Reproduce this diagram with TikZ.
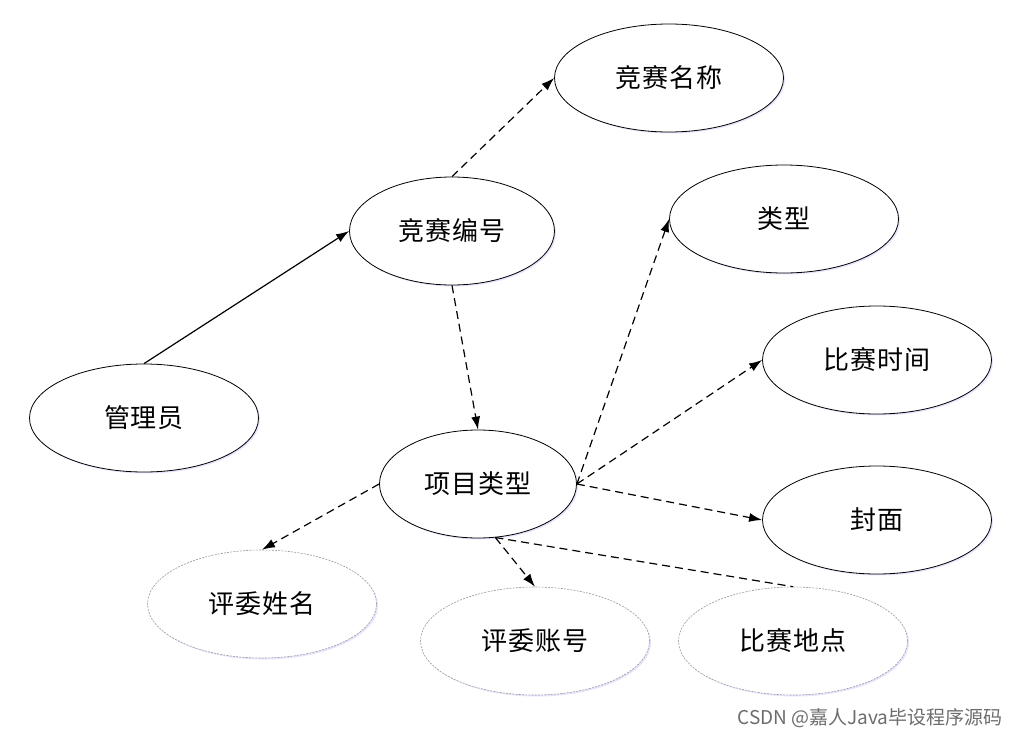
\documentclass[tikz,border=0pt]{standalone}
\usepackage{fontspec}
\setmainfont{Noto Sans CJK SC}
\usetikzlibrary{shapes.geometric,arrows.meta,shadows}
\begin{document}
\begin{tikzpicture}[x=1pt,y=-1pt,
  ent/.style={ellipse,draw=black,line width=0.8pt,fill=white,inner sep=0pt,
    minimum width=229pt,minimum height=108pt,font=\fontsize{26}{29}\selectfont\addfontfeatures{LetterSpace=3}\fontseries{l}\selectfont,
    drop shadow={shadow xshift=1.5pt,shadow yshift=-1.5pt,fill=blue!30,opacity=0.35}},
  weak/.style={ent,draw=gray!80,dash pattern=on 2pt off 1.2pt,line width=0.6pt},
  solidarr/.style={line width=1.2pt,-{Latex[length=13pt,width=9pt]}},
  dasharr/.style={line width=1.2pt,dash pattern=on 8pt off 5pt,-{Latex[length=13pt,width=9pt]}},
  dashln/.style={line width=1.2pt,dash pattern=on 8pt off 5pt}]
\useasboundingbox (0,0) rectangle (1020,739);
\node[ent] (mc) at (669,78) {竞赛名称};
\node[ent,minimum width=205pt] (bh) at (452,231) {竞赛编号};
\node[ent] (lx) at (784,219) {类型};
\node[ent] (sj) at (877,360) {比赛时间};
\node[ent] (gly) at (144,418) {管理员};
\node[ent,minimum width=197pt] (xm) at (478,484) {项目类型};
\node[ent] (fm) at (877,520) {封面};
\node[weak] (xm1) at (262,604) {评委姓名};
\node[weak] (zh) at (535,641) {评委账号};
\node[weak] (dd) at (793,641) {比赛地点};
\node[text=gray!85!black,font=\fontsize{19}{21}\selectfont,anchor=east] (wm) at (1006,718) {CSDN @嘉人Java毕设程序源码};
\draw[solidarr] (gly.north) -- (bh.west);
\draw[dasharr] (bh.north) -- (mc.west);
\draw[dasharr] (bh.south) -- (xm.north);
\draw[dasharr] (xm.east) -- (lx.west);
\draw[dasharr] (xm.east) -- (sj.west);
\draw[dasharr] (xm.east) -- (fm.west);
\draw[dasharr] (xm.west) -- (xm1.north);
\draw[dasharr] (xm.-72) -- (zh.north);
\draw[dashln] (xm.-72) -- (dd.north);
\end{tikzpicture}
\end{document}
